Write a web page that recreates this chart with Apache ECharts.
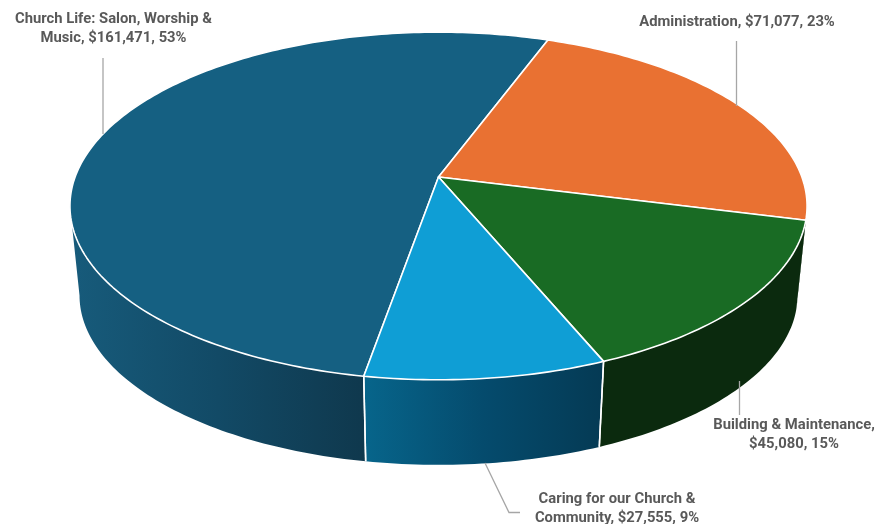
<!DOCTYPE html>
<html>
<head>
<meta charset="utf-8">
<style>html,body{margin:0;padding:0;background:#fff}#c{width:886px;height:524px}</style>
<script src="https://cdn.jsdelivr.net/npm/echarts@6/dist/echarts.min.js"></script>
</head>
<body>
<div id="c"></div>
<script>
// ---- data ----
const categories = ['Church Life: Salon, Worship & Music', 'Administration', 'Building & Maintenance', 'Caring for our Church & Community'];
const values = [161471, 71077, 45080, 27555];
const percents = [53, 23, 15, 9];
const topColors = ['#156082', '#e97132', '#196b24', '#0f9ed5'];
const wallStops = [
  ['#175b7b', '#124a66', '#0f384d'],
  ['#0b2a0e', '#0b2a0e', '#0b2a0e'],
  ['#0b2a0e', '#0b2a0e', '#0b2a0e'],
  ['#07658b', '#054b6d', '#053a54']
];
const labelText = [
  ['Church Life: Salon, Worship &', 'Music, {v}, {p}%'],
  ['Administration, {v}, {p}%'],
  ['Building & Maintenance,', '{v}, {p}%'],
  ['Caring for our Church &', 'Community, {v}, {p}%']
];

// ---- layout ----
const geo = {cx: 438.5, cy: 177, R: 363.4, S: 169, p: 0.1667, scale: 0.974, drop: 94.9, start: 189.9};
const labelPos = [[113.5, 28.5], [737, 22], [794, 435], [617, 508.5]];
const leaders = [
  [[103, 58], [103, 134]],
  [[736.5, 41], [736.5, 106]],
  [[739.5, 381], [739.5, 415]],
  [[485, 463], [509, 512.5], [520, 512.5]]
];
const total = values.reduce((a, b) => a + b, 0);
const spans = [];
values.reduce((acc, v) => { const s = v / total * 360; spans.push([acc, acc + s]); return acc + s; }, geo.start);

function project(deg) {
  const t = deg * Math.PI / 180, u = Math.sin(t), v = -Math.cos(t), w = 1 - geo.p * v;
  return [geo.cx + geo.R * u / w, geo.cy + geo.S * v / w];
}
function lower(pt) {
  return [geo.cx + geo.scale * (pt[0] - geo.cx), pt[1] * geo.scale + geo.drop];
}
function arc(a, b) {
  const pts = [], n = Math.max(2, Math.ceil(Math.abs(b - a)));
  for (let i = 0; i <= n; i++) pts.push(project(a + (b - a) * i / n));
  return pts;
}
const rightLimit = 180 - Math.acos(geo.p) * 180 / Math.PI;
const leftLimit = 180 + Math.acos(geo.p) * 180 / Math.PI;

function wallOf(i) {
  // a slice's share of the visible front side, on either turn of the circle
  for (const off of [0, -360]) {
    const lo = Math.max(spans[i][0] + off, rightLimit), hi = Math.min(spans[i][1] + off, leftLimit);
    if (hi > lo) return [lo, hi];
  }
  return null;
}

function renderWall(params, api) {
  const i = params.dataIndex, children = [];
  api.value(0);
  const range = wallOf(i);
  if (range) {
    const [lo, hi] = range;
    const top = arc(lo, hi);
    const bottom = top.map(lower).reverse();
    const s = wallStops[i];
    children.push({
      type: 'polygon',
      shape: {points: top.concat(bottom)},
      style: {fill: new echarts.graphic.LinearGradient(0, 0, 1, 0, [
        {offset: 0, color: s[0]}, {offset: 0.5, color: s[1]}, {offset: 1, color: s[2]}
      ])}
    });
    [lo, hi].forEach(d => {
      if (d > 110 && d < 250) {
        const pt = project(d);
        children.push({type: 'line', z2: 5, shape: {x1: pt[0], y1: pt[1], x2: lower(pt)[0], y2: lower(pt)[1]},
          style: {stroke: '#fff', lineWidth: 1.5}});
      }
    });
  }
  return {type: 'group', children};
}

function renderTop(params, api) {
  const i = params.dataIndex;
  api.value(0);
  const [a, b] = spans[i];
  const lines = labelText[i].map(t => t.replace('{v}', '$' + values[i].toLocaleString('en-US')).replace('{p}', percents[i]));
  return {type: 'group', children: [
    {type: 'polygon', shape: {points: [[geo.cx, geo.cy]].concat(arc(a, b))},
      style: {fill: topColors[i], stroke: '#fff', lineWidth: 1.6, lineJoin: 'round'}},
    {type: 'polyline', shape: {points: leaders[i]},
      style: {fill: null, stroke: '#a6a6a6', lineWidth: 1.3}},
    {type: 'text', style: {
      x: labelPos[i][0], y: labelPos[i][1], text: lines.join('\n'),
      fill: '#595959', align: 'center', verticalAlign: 'middle', lineHeight: 19,
      font: '700 14.8px Roboto'
    }}
  ]};
}

const seriesData = categories.map((name, i) => ({name, value: values[i]}));
const chart = echarts.init(document.getElementById('c'), null, {renderer: 'canvas'});
chart.setOption({
  animation: false,
  backgroundColor: '#ffffff',
  series: [
    {type: 'custom', name: 'Sides', coordinateSystem: 'none', silent: true, z: 1, data: seriesData, renderItem: renderWall},
    {type: 'custom', name: 'Tops', coordinateSystem: 'none', silent: true, z: 2, data: seriesData, renderItem: renderTop}
  ]
});
</script>
</body>
</html>
